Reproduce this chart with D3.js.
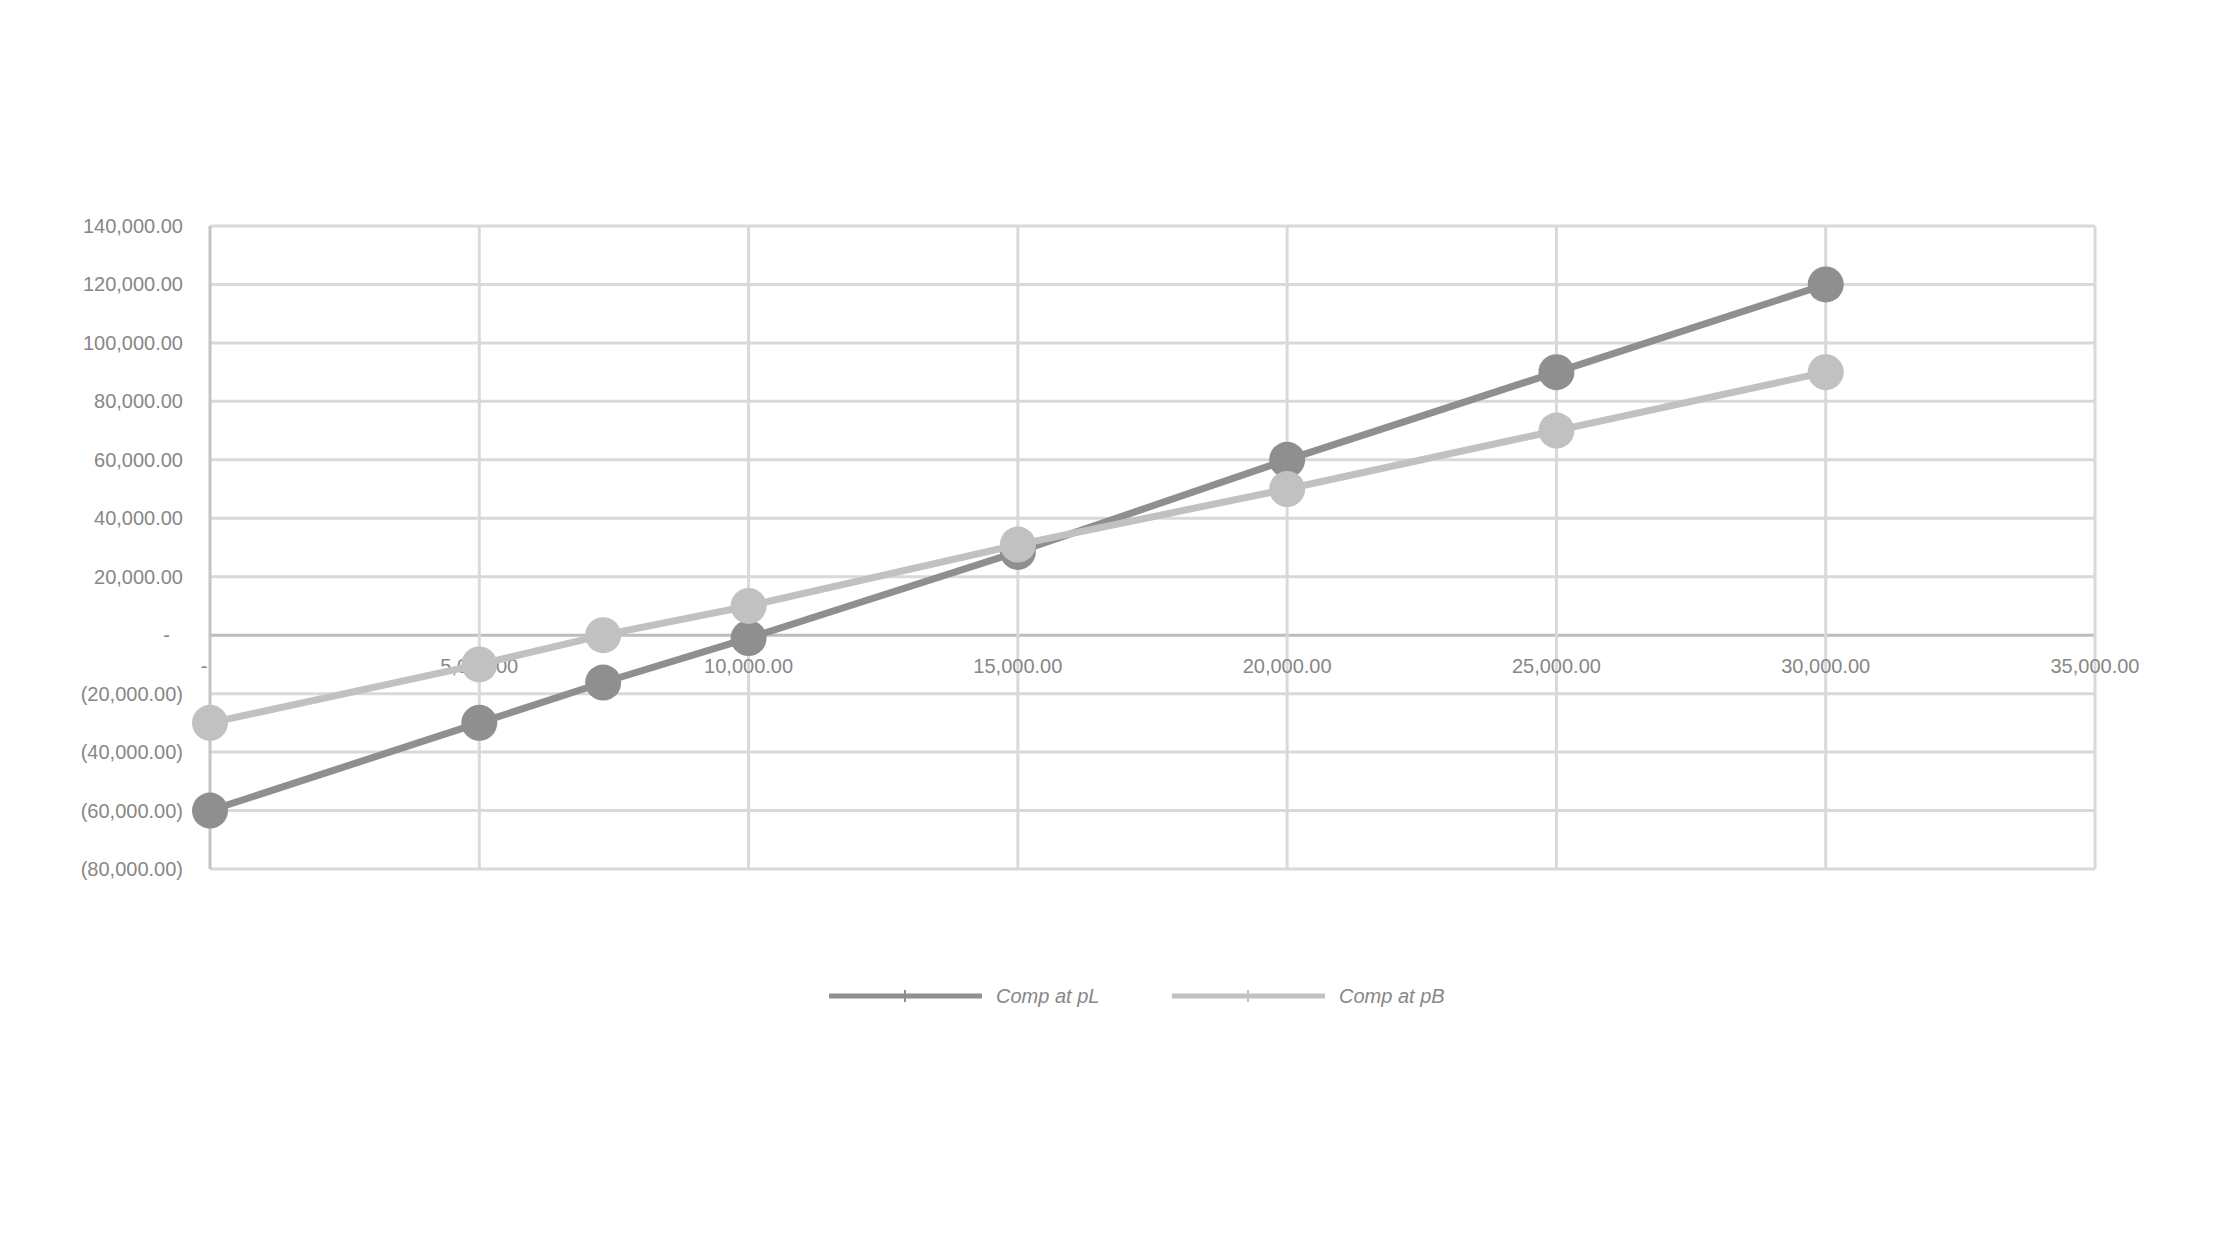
<!DOCTYPE html>
<html>
<head>
<meta charset="utf-8">
<script src="https://cdn.jsdelivr.net/npm/d3@7"></script>
<style>
  body { margin: 0; background: #fff; }
  text { font-family: "Liberation Sans", Arial, sans-serif; fill: #878787; }
</style>
</head>
<body>
<svg id="chart"></svg>
<script>
let width = 2240;
let height = 1260;

// x values (units) and the two series
let xValues = [0, 5000, 7300, 10000, 15000, 20000, 25000, 30000];
let compPL = [-60000, -30000, -16200, -1000, 28500, 60000, 90000, 120000];
let compPB = [-30000, -10000, 0, 10000, 31000, 50000, 70000, 90000];
let seriesNames = ['Comp at pL', 'Comp at pB'];
let seriesColors = ['#8f8f8f', '#c1c1c1'];

let xTicks = [0, 5000, 10000, 15000, 20000, 25000, 30000, 35000];
let yTicks = [140000, 120000, 100000, 80000, 60000, 40000, 20000, 0, -20000, -40000, -60000, -80000];

let plot = { left: 210, right: 2095, top: 226, bottom: 869 };

let x = d3.scaleLinear().domain([0, 35000]).range([plot.left, plot.right]);
let y = d3.scaleLinear().domain([-80000, 140000]).range([plot.bottom, plot.top]);

let num = d3.format(',.2f');
function acct(v) {
  if (v === 0) return '-';
  return v < 0 ? '(' + num(-v) + ')' : num(v);
}

let svg = d3.select('#chart')
  .attr('width', width)
  .attr('height', height);

// gridlines
svg.append('g')
  .selectAll('line')
  .data(yTicks)
  .enter()
  .append('line')
  .attr('x1', plot.left).attr('x2', plot.right)
  .attr('y1', d => y(d)).attr('y2', d => y(d))
  .attr('stroke', d => d === 0 ? '#bdbdbd' : '#d9d9d9')
  .attr('stroke-width', 3);

svg.append('g')
  .selectAll('line')
  .data(xTicks)
  .enter()
  .append('line')
  .attr('x1', d => x(d)).attr('x2', d => x(d))
  .attr('y1', plot.top).attr('y2', plot.bottom)
  .attr('stroke', d => d === 0 ? '#c4c4c4' : '#d9d9d9')
  .attr('stroke-width', 3);

// y axis labels
svg.append('g')
  .selectAll('text')
  .data(yTicks)
  .enter()
  .append('text')
  .attr('x', d => d === 0 ? 170 : 183)
  .attr('y', d => y(d))
  .attr('dy', '0.35em')
  .attr('text-anchor', 'end')
  .attr('font-size', 20)
  .text(acct);

// x axis labels sit just under the zero line
svg.append('g')
  .selectAll('text')
  .data(xTicks)
  .enter()
  .append('text')
  .attr('x', d => d === 0 ? x(d) - 6 : x(d))
  .attr('y', y(0) + 31)
  .attr('dy', '0.35em')
  .attr('text-anchor', 'middle')
  .attr('font-size', 20)
  .text(acct);

// series
let line = d3.line()
  .x(d => x(d[0]))
  .y(d => y(d[1]));

[compPL, compPB].forEach(function (vals, i) {
  let pts = xValues.map((v, j) => [v, vals[j]]);
  let g = svg.append('g');
  g.append('path')
    .datum(pts)
    .attr('d', line)
    .attr('fill', 'none')
    .attr('stroke', seriesColors[i])
    .attr('stroke-width', 7)
    .attr('stroke-linejoin', 'round');
  g.selectAll('circle')
    .data(pts)
    .enter()
    .append('circle')
    .attr('cx', d => x(d[0]))
    .attr('cy', d => y(d[1]))
    .attr('r', 18)
    .attr('fill', seriesColors[i]);
});

// legend
let legendX = [829, 1172];
let legendY = 996;
let legend = svg.append('g')
  .selectAll('g')
  .data(seriesNames)
  .enter()
  .append('g')
  .attr('transform', (d, i) => 'translate(' + legendX[i] + ',' + legendY + ')');

legend.append('line')
  .attr('x1', 0).attr('x2', 153)
  .attr('y1', 0).attr('y2', 0)
  .attr('stroke', (d, i) => seriesColors[i])
  .attr('stroke-width', 5);

legend.append('line')
  .attr('x1', 76).attr('x2', 76)
  .attr('y1', -6).attr('y2', 6)
  .attr('stroke', (d, i) => seriesColors[i])
  .attr('stroke-width', 2);

legend.append('text')
  .attr('x', 167)
  .attr('y', 0)
  .attr('dy', '0.35em')
  .attr('font-size', 20)
  .attr('font-style', 'italic')
  .text(d => d);
</script>
</body>
</html>
